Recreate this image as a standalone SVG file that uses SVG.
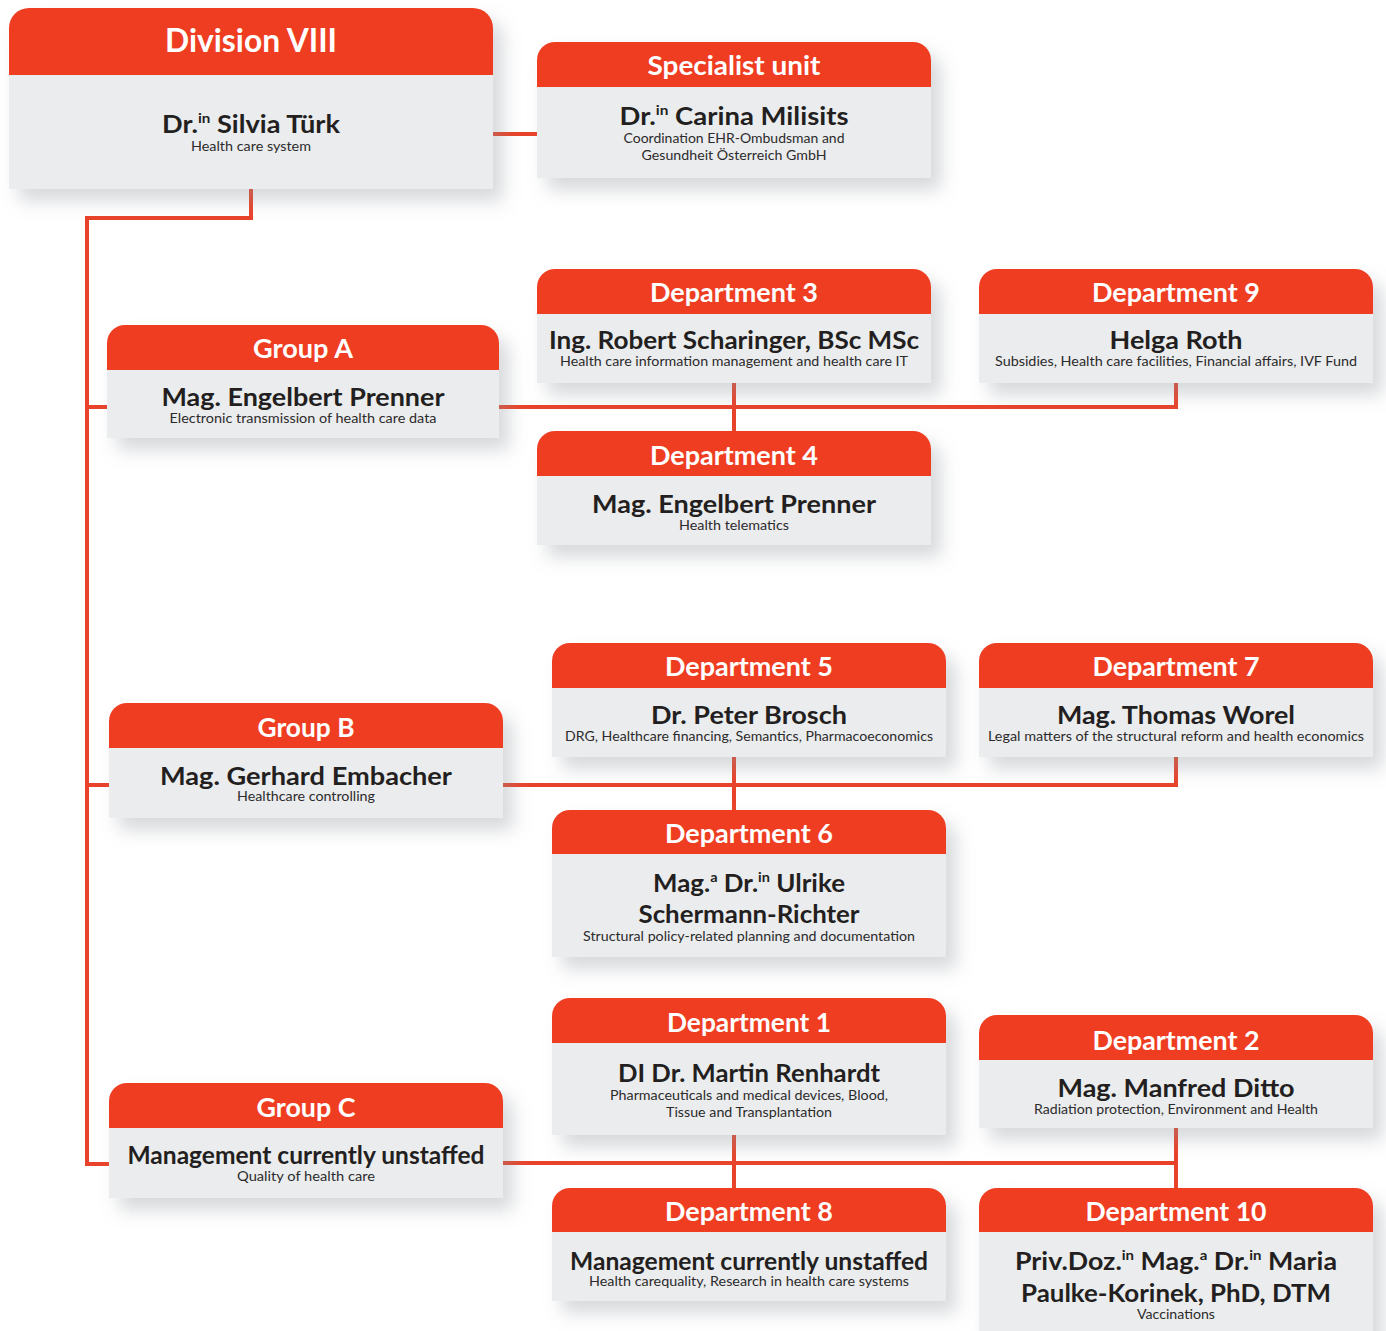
<svg xmlns="http://www.w3.org/2000/svg" width="1386" height="1331" viewBox="0 0 1386 1331">
<defs>
<filter id="sh" x="-10%" y="-20%" width="130%" height="160%">
<feDropShadow dx="10" dy="12" stdDeviation="9" flood-color="#8a9099" flood-opacity="0.35"/>
</filter>
<style>
.hd{fill:#ef3e23}
.bd{fill:#ebecee}
.ln{fill:none;stroke:#e8432a;stroke-width:4}
text{font-family:"Lato","Open Sans",sans-serif;text-anchor:middle}
.t{fill:#fff;font-weight:700;font-size:26px}
.n{fill:#231f20;font-weight:700;font-size:25px}
.s{fill:#2b2b2b;font-size:13px}
.sp{font-size:14px}
</style>
</defs>
<rect width="1386" height="1331" fill="#fff"/>
<g id="connectors">
<path class="ln" d="M493 134H537"/>
<path class="ln" d="M251 189V218H87V1164H109"/>
<path class="ln" d="M87 407H107"/>
<path class="ln" d="M87 785H109"/>
<path class="ln" d="M499 407H1176V383"/>
<path class="ln" d="M734 383V431"/>
<path class="ln" d="M503 785H1176V757"/>
<path class="ln" d="M734 757V810"/>
<path class="ln" d="M503 1163H1176"/>
<path class="ln" d="M1176 1128V1188"/>
<path class="ln" d="M734 1135V1188"/>
</g>

<g id="division8">
<g filter="url(#sh)"><path class="hd" d="M9 28A20 20 0 0 1 29 8H473A20 20 0 0 1 493 28V75H9Z"/><rect class="bd" x="9" y="75" width="484" height="114"/></g>
<text class="t" x="251" y="52" font-size="32" style="font-size:32px" textLength="172" lengthAdjust="spacingAndGlyphs">Division VIII</text>
<text class="n" x="251" y="133" textLength="178" lengthAdjust="spacingAndGlyphs">Dr.<tspan class="sp" dy="-10">in</tspan><tspan dy="10"> Silvia Türk</tspan></text>
<text class="s" x="251" y="151" textLength="120" lengthAdjust="spacingAndGlyphs">Health care system</text>
</g>

<g id="specialist">
<g filter="url(#sh)"><path class="hd" d="M537 60A18 18 0 0 1 555 42H913A18 18 0 0 1 931 60V87H537Z"/><rect class="bd" x="537" y="87" width="394" height="91"/></g>
<text class="t" x="734" y="75" textLength="173" lengthAdjust="spacingAndGlyphs">Specialist unit</text>
<text class="n" x="734" y="125" textLength="229" lengthAdjust="spacingAndGlyphs">Dr.<tspan class="sp" dy="-10">in</tspan><tspan dy="10"> Carina Milisits</tspan></text>
<text class="s" x="734" y="143" textLength="221" lengthAdjust="spacingAndGlyphs">Coordination EHR-Ombudsman and</text>
<text class="s" x="734" y="160" textLength="185" lengthAdjust="spacingAndGlyphs">Gesundheit Österreich GmbH</text>
</g>

<g id="groupA">
<g filter="url(#sh)"><path class="hd" d="M107 343A18 18 0 0 1 125 325H481A18 18 0 0 1 499 343V370H107Z"/><rect class="bd" x="107" y="370" width="392" height="68"/></g>
<text class="t" x="303" y="358" textLength="100" lengthAdjust="spacingAndGlyphs">Group A</text>
<text class="n" x="303" y="406" textLength="283" lengthAdjust="spacingAndGlyphs">Mag. Engelbert Prenner</text>
<text class="s" x="303" y="423" textLength="267" lengthAdjust="spacingAndGlyphs">Electronic transmission of health care data</text>
</g>

<g id="dept3">
<g filter="url(#sh)"><path class="hd" d="M537 287A18 18 0 0 1 555 269H913A18 18 0 0 1 931 287V314H537Z"/><rect class="bd" x="537" y="314" width="394" height="69"/></g>
<text class="t" x="734" y="302" textLength="168" lengthAdjust="spacingAndGlyphs">Department 3</text>
<text class="n" x="734" y="349" textLength="370" lengthAdjust="spacingAndGlyphs">Ing. Robert Scharinger, BSc MSc</text>
<text class="s" x="734" y="366" textLength="348" lengthAdjust="spacingAndGlyphs">Health care information management and health care IT</text>
</g>

<g id="dept9">
<g filter="url(#sh)"><path class="hd" d="M979 287A18 18 0 0 1 997 269H1355A18 18 0 0 1 1373 287V314H979Z"/><rect class="bd" x="979" y="314" width="394" height="69"/></g>
<text class="t" x="1176" y="302" textLength="168" lengthAdjust="spacingAndGlyphs">Department 9</text>
<text class="n" x="1176" y="349" textLength="133" lengthAdjust="spacingAndGlyphs">Helga Roth</text>
<text class="s" x="1176" y="366" textLength="362" lengthAdjust="spacingAndGlyphs">Subsidies, Health care facilities, Financial affairs, IVF Fund</text>
</g>

<g id="dept4">
<g filter="url(#sh)"><path class="hd" d="M537 449A18 18 0 0 1 555 431H913A18 18 0 0 1 931 449V476H537Z"/><rect class="bd" x="537" y="476" width="394" height="69"/></g>
<text class="t" x="734" y="465" textLength="168" lengthAdjust="spacingAndGlyphs">Department 4</text>
<text class="n" x="734" y="513" textLength="284" lengthAdjust="spacingAndGlyphs">Mag. Engelbert Prenner</text>
<text class="s" x="734" y="530" textLength="110" lengthAdjust="spacingAndGlyphs">Health telematics</text>
</g>

<g id="groupB">
<g filter="url(#sh)"><path class="hd" d="M109 721A18 18 0 0 1 127 703H485A18 18 0 0 1 503 721V748H109Z"/><rect class="bd" x="109" y="748" width="394" height="70"/></g>
<text class="t" x="306" y="737" textLength="97" lengthAdjust="spacingAndGlyphs">Group B</text>
<text class="n" x="306" y="785" textLength="292" lengthAdjust="spacingAndGlyphs">Mag. Gerhard Embacher</text>
<text class="s" x="306" y="801" textLength="138" lengthAdjust="spacingAndGlyphs">Healthcare controlling</text>
</g>

<g id="dept5">
<g filter="url(#sh)"><path class="hd" d="M552 661A18 18 0 0 1 570 643H928A18 18 0 0 1 946 661V688H552Z"/><rect class="bd" x="552" y="688" width="394" height="69"/></g>
<text class="t" x="749" y="676" textLength="168" lengthAdjust="spacingAndGlyphs">Department 5</text>
<text class="n" x="749" y="724" textLength="196" lengthAdjust="spacingAndGlyphs">Dr. Peter Brosch</text>
<text class="s" x="749" y="741" textLength="368" lengthAdjust="spacingAndGlyphs">DRG, Healthcare financing, Semantics, Pharmacoeconomics</text>
</g>

<g id="dept7">
<g filter="url(#sh)"><path class="hd" d="M979 661A18 18 0 0 1 997 643H1355A18 18 0 0 1 1373 661V688H979Z"/><rect class="bd" x="979" y="688" width="394" height="69"/></g>
<text class="t" x="1176" y="676" textLength="167" lengthAdjust="spacingAndGlyphs">Department 7</text>
<text class="n" x="1176" y="724" textLength="238" lengthAdjust="spacingAndGlyphs">Mag. Thomas Worel</text>
<text class="s" x="1176" y="741" textLength="376" lengthAdjust="spacingAndGlyphs">Legal matters of the structural reform and health economics</text>
</g>

<g id="dept6">
<g filter="url(#sh)"><path class="hd" d="M552 828A18 18 0 0 1 570 810H928A18 18 0 0 1 946 828V854H552Z"/><rect class="bd" x="552" y="854" width="394" height="103"/></g>
<text class="t" x="749" y="843" textLength="168" lengthAdjust="spacingAndGlyphs">Department 6</text>
<text class="n" x="749" y="892" textLength="192" lengthAdjust="spacingAndGlyphs">Mag.<tspan class="sp" dy="-10">a</tspan><tspan dy="10"> Dr.</tspan><tspan class="sp" dy="-10">in</tspan><tspan dy="10"> Ulrike</tspan></text>
<text class="n" x="749" y="923" textLength="221" lengthAdjust="spacingAndGlyphs">Schermann-Richter</text>
<text class="s" x="749" y="941" textLength="332" lengthAdjust="spacingAndGlyphs">Structural policy-related planning and documentation</text>
</g>

<g id="groupC">
<g filter="url(#sh)"><path class="hd" d="M109 1101A18 18 0 0 1 127 1083H485A18 18 0 0 1 503 1101V1128H109Z"/><rect class="bd" x="109" y="1128" width="394" height="70"/></g>
<text class="t" x="306" y="1117" textLength="99" lengthAdjust="spacingAndGlyphs">Group C</text>
<text class="n" x="306" y="1164" textLength="357" lengthAdjust="spacingAndGlyphs">Management currently unstaffed</text>
<text class="s" x="306" y="1181" textLength="138" lengthAdjust="spacingAndGlyphs">Quality of health care</text>
</g>

<g id="dept1">
<g filter="url(#sh)"><path class="hd" d="M552 1016A18 18 0 0 1 570 998H928A18 18 0 0 1 946 1016V1043H552Z"/><rect class="bd" x="552" y="1043" width="394" height="92"/></g>
<text class="t" x="749" y="1032" textLength="164" lengthAdjust="spacingAndGlyphs">Department 1</text>
<text class="n" x="749" y="1082" textLength="262" lengthAdjust="spacingAndGlyphs">DI Dr. Martin Renhardt</text>
<text class="s" x="749" y="1100" textLength="278" lengthAdjust="spacingAndGlyphs">Pharmaceuticals and medical devices, Blood,</text>
<text class="s" x="749" y="1117" textLength="166" lengthAdjust="spacingAndGlyphs">Tissue and Transplantation</text>
</g>

<g id="dept2">
<g filter="url(#sh)"><path class="hd" d="M979 1033A18 18 0 0 1 997 1015H1355A18 18 0 0 1 1373 1033V1060H979Z"/><rect class="bd" x="979" y="1060" width="394" height="68"/></g>
<text class="t" x="1176" y="1050" textLength="167" lengthAdjust="spacingAndGlyphs">Department 2</text>
<text class="n" x="1176" y="1097" textLength="237" lengthAdjust="spacingAndGlyphs">Mag. Manfred Ditto</text>
<text class="s" x="1176" y="1114" textLength="284" lengthAdjust="spacingAndGlyphs">Radiation protection, Environment and Health</text>
</g>

<g id="dept8">
<g filter="url(#sh)"><path class="hd" d="M552 1206A18 18 0 0 1 570 1188H928A18 18 0 0 1 946 1206V1232H552Z"/><rect class="bd" x="552" y="1232" width="394" height="69"/></g>
<text class="t" x="749" y="1221" textLength="168" lengthAdjust="spacingAndGlyphs">Department 8</text>
<text class="n" x="749" y="1270" textLength="358" lengthAdjust="spacingAndGlyphs">Management currently unstaffed</text>
<text class="s" x="749" y="1286" textLength="320" lengthAdjust="spacingAndGlyphs">Health carequality, Research in health care systems</text>
</g>

<g id="dept10">
<g filter="url(#sh)"><path class="hd" d="M979 1206A18 18 0 0 1 997 1188H1355A18 18 0 0 1 1373 1206V1232H979Z"/><rect class="bd" x="979" y="1232" width="394" height="110"/></g>
<text class="t" x="1176" y="1221" textLength="181" lengthAdjust="spacingAndGlyphs">Department 10</text>
<text class="n" x="1176" y="1270" textLength="322" lengthAdjust="spacingAndGlyphs">Priv.Doz.<tspan class="sp" dy="-10">in</tspan><tspan dy="10"> Mag.</tspan><tspan class="sp" dy="-10">a</tspan><tspan dy="10"> Dr.</tspan><tspan class="sp" dy="-10">in</tspan><tspan dy="10"> Maria</tspan></text>
<text class="n" x="1176" y="1302" textLength="310" lengthAdjust="spacingAndGlyphs">Paulke-Korinek, PhD, DTM</text>
<text class="s" x="1176" y="1319" textLength="78" lengthAdjust="spacingAndGlyphs">Vaccinations</text>
</g>
</svg>
